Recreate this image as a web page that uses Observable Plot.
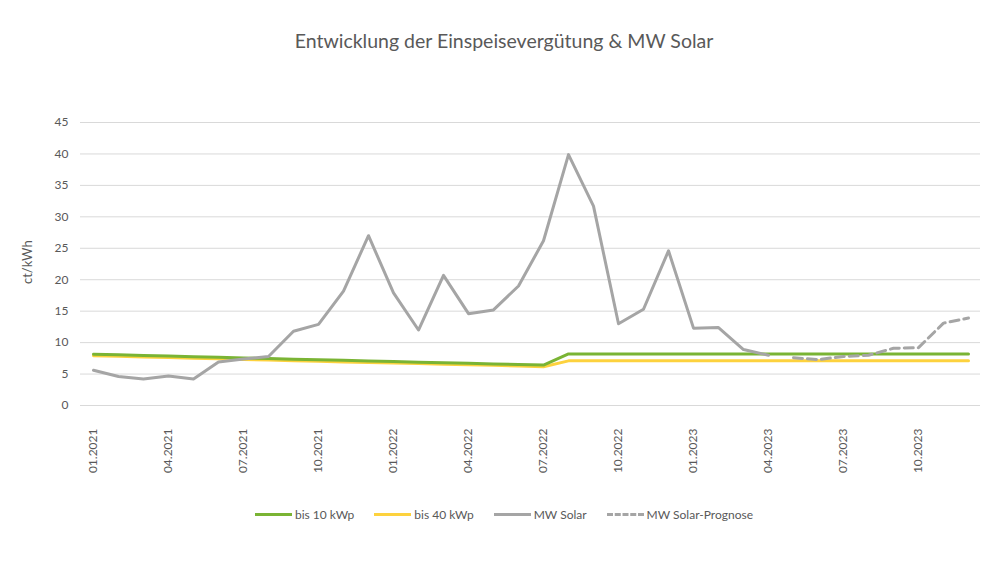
<!DOCTYPE html>
<html>
<head>
<meta charset="utf-8">
<script src="https://cdn.jsdelivr.net/npm/d3@7"></script>
<script src="https://cdn.jsdelivr.net/npm/@observablehq/plot@0.6"></script>
<style>
  html, body { margin: 0; padding: 0; background: #ffffff; }
  body { font-family: Lato, "Open Sans", sans-serif; color: #595959; }
  #wrap { width: 1008px; height: 567px; position: relative; overflow: hidden; }
  #title { height: 90px; box-sizing: border-box; padding-top: 30px; text-align: center; font-size: 19.5px; line-height: 22px; color: #595959; }
  #legend { position: absolute; top: 507px; left: 0; width: 1008px; display: flex; justify-content: center; gap: 20px; font-size: 12px; color: #595959; align-items: center; }
  .item { display: flex; align-items: center; }
  .sw { width: 37px; height: 0; margin-right: 3px; border-top: 3px solid; }
</style>
</head>
<body>
<div id="wrap">
  <div id="title">Entwicklung der Einspeisevergütung &amp; MW Solar</div>
  <div id="chart"></div>
  <div id="legend"></div>
</div>
<script>
// Monthly categories 01.2021 – 12.2023
const months = [
  "01.2021","02.2021","03.2021","04.2021","05.2021","06.2021","07.2021","08.2021","09.2021","10.2021","11.2021","12.2021",
  "01.2022","02.2022","03.2022","04.2022","05.2022","06.2022","07.2022","08.2022","09.2022","10.2022","11.2022","12.2022",
  "01.2023","02.2023","03.2023","04.2023","05.2023","06.2023","07.2023","08.2023","09.2023","10.2023","11.2023","12.2023"
];
const tickLabels = ["01.2021","04.2021","07.2021","10.2021","01.2022","04.2022","07.2022","10.2022","01.2023","04.2023","07.2023","10.2023"];
const yTicks = [0, 5, 10, 15, 20, 25, 30, 35, 40, 45];

// Feed-in tariff up to 10 kWp (ct/kWh)
const bis10 = [
  8.16, 8.06, 7.96, 7.86, 7.76, 7.66, 7.57, 7.47, 7.37, 7.27, 7.18, 7.08,
  6.99, 6.89, 6.80, 6.70, 6.61, 6.52, 6.43, 8.20, 8.20, 8.20, 8.20, 8.20,
  8.20, 8.20, 8.20, 8.20, 8.20, 8.20, 8.20, 8.20, 8.20, 8.20, 8.20, 8.20
];
// Feed-in tariff up to 40 kWp (ct/kWh)
const bis40 = [
  7.93, 7.83, 7.73, 7.63, 7.53, 7.43, 7.33, 7.23, 7.13, 7.03, 6.93, 6.84,
  6.75, 6.66, 6.57, 6.48, 6.39, 6.30, 6.15, 7.10, 7.10, 7.10, 7.10, 7.10,
  7.10, 7.10, 7.10, 7.10, 7.10, 7.10, 7.10, 7.10, 7.10, 7.10, 7.10, 7.10
];
// Market value solar, actual (01.2021 – 04.2023)
const mwSolar = [
  5.6, 4.6, 4.2, 4.7, 4.2, 6.9, 7.4, 7.8, 11.8, 12.9, 18.2, 27.0,
  17.9, 12.0, 20.7, 14.6, 15.2, 19.0, 26.2, 39.9, 31.7, 13.0, 15.3, 24.6,
  12.3, 12.4, 8.9, 8.0
];
// Market value solar, forecast (05.2023 – 12.2023)
const mwPrognose = [7.6, 7.3, 7.8, 8.0, 9.1, 9.2, 13.1, 13.9];

const colors = { bis10: "#7ab434", bis40: "#fdd23e", mw: "#a5a5a5" };

const rows = (vals, offset = 0) => vals.map((v, i) => ({ m: months[i + offset], v }));

const chart = Plot.plot({
  width: 1008,
  height: 410,
  marginLeft: 80,
  marginRight: 28,
  marginTop: 32,
  marginBottom: 95,
  style: { fontFamily: "Lato, 'Open Sans', sans-serif", color: "#595959", background: "#ffffff" },
  x: { type: "point", domain: months, padding: 0.5 },
  y: { domain: [0, 45] },
  marks: [
    Plot.gridY(yTicks, { stroke: "#d9d9d9", strokeOpacity: 1, strokeWidth: 1 }),
    Plot.axisY(yTicks, { tickSize: 0, tickPadding: 12, fontSize: 12, label: null, fill: "#595959" }),
    Plot.axisX(tickLabels, { tickSize: 0, tickPadding: 23, tickRotate: -90, fontSize: 12, label: null, fill: "#595959", style: { letterSpacing: "1.2px" } }),
    Plot.text(["ct/kWh"], { frameAnchor: "left", dx: -53, dy: 20, rotate: -90, fontSize: 13, fill: "#595959" }),
    Plot.line(rows(bis40), { x: "m", y: "v", stroke: colors.bis40, strokeWidth: 3 }),
    Plot.line(rows(bis10), { x: "m", y: "v", stroke: colors.bis10, strokeWidth: 3 }),
    Plot.line(rows(mwSolar), { x: "m", y: "v", stroke: colors.mw, strokeWidth: 3 }),
    Plot.line(rows(mwPrognose, 28), { x: "m", y: "v", stroke: colors.mw, strokeWidth: 3, strokeDasharray: "9,5" })
  ]
});
document.getElementById("chart").appendChild(chart);

const legendItems = [
  { label: "bis 10 kWp", color: colors.bis10, dash: false },
  { label: "bis 40 kWp", color: colors.bis40, dash: false },
  { label: "MW Solar", color: colors.mw, dash: false },
  { label: "MW Solar-Prognose", color: colors.mw, dash: true }
];
const legend = document.getElementById("legend");
for (const it of legendItems) {
  const d = document.createElement("div");
  d.className = "item";
  const sw = document.createElement("span");
  sw.className = "sw";
  sw.style.borderTopColor = it.color;
  if (it.dash) sw.style.borderTopStyle = "dashed";
  const t = document.createElement("span");
  t.textContent = it.label;
  d.appendChild(sw); d.appendChild(t);
  legend.appendChild(d);
}
</script>
</body>
</html>
